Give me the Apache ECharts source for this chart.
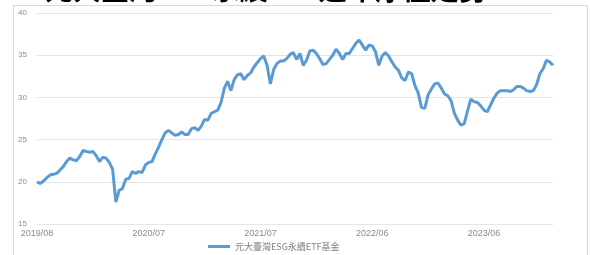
<!DOCTYPE html>
<html><head><meta charset="utf-8">
<script src="https://cdn.jsdelivr.net/npm/echarts@6/dist/echarts.min.js"></script>
<style>html,body{margin:0;padding:0;background:#fff}#c{width:590px;height:255px}</style>
</head><body><div id="c"></div>
<script>
const titleText = '元大臺灣ESG永續ETF近年淨值走勢';
const seriesName = '元大臺灣ESG永續ETF基金';
const tickLabels = ['2019/08', '2020/07', '2021/07', '2022/06', '2023/06'];
const labelStep = 34;
const yMin = 15, yMax = 40, yStep = 5;
const values = [
 20.0,19.8,20.1,20.5,20.8,20.9,21.0,21.4,21.8,22.4,
 22.8,22.6,22.5,23.0,23.7,23.6,23.5,23.6,23.1,22.4,
 22.9,22.8,22.3,21.5,17.6,19.0,19.2,20.3,20.4,21.2,
 21.0,21.2,21.1,22.0,22.3,22.4,23.3,24.1,25.0,25.8,
 26.1,25.8,25.5,25.6,25.9,25.6,25.6,26.3,26.4,26.1,
 26.6,27.4,27.3,28.1,28.3,28.5,29.4,31.1,31.9,30.8,
 32.1,32.7,32.8,32.1,32.6,32.9,33.6,34.1,34.6,34.9,
 33.8,31.6,33.3,34.0,34.3,34.3,34.6,35.1,35.3,34.5,
 35.2,33.8,34.4,35.5,35.6,35.2,34.6,33.9,34.0,34.5,
 35.0,35.7,35.2,34.5,35.2,35.2,35.8,36.4,36.8,36.2,
 35.6,36.2,36.1,35.4,33.8,34.9,35.3,34.9,34.2,33.6,
 33.2,32.3,32.0,33.0,32.8,31.4,30.5,28.8,28.7,30.3,
 31.0,31.6,31.7,31.1,30.4,30.2,29.6,28.1,27.3,26.7,
 26.9,28.4,29.8,29.5,29.4,29.0,28.5,28.3,29.1,29.9,
 30.5,30.8,30.8,30.8,30.7,30.9,31.3,31.3,31.1,30.8,
 30.7,30.8,31.5,32.8,33.4,34.4,34.2,33.8
];
const categories = values.map((_, i) => (i % labelStep === 0 && tickLabels[i / labelStep]) ? tickLabels[i / labelStep] : String(i));

const chart = echarts.init(document.getElementById('c'), null, {renderer: 'canvas'});
chart.setOption({
  animation: false,
  backgroundColor: '#fff',
  graphic: [
    {type: 'rect', shape: {x: 13.5, y: 5.5, width: 574, height: 260}, style: {fill: 'none', stroke: '#d9d9d9', lineWidth: 1}, z: -1},
    {type: 'text', x: 45, y: 3, style: {text: titleText, font: 'bold 28px "Noto Sans CJK TC"', fill: '#000', verticalAlign: 'bottom'}}
  ],
  legend: {
    left: 203, top: 237, icon: 'rect', itemWidth: 22, itemHeight: 3,
    textStyle: {fontSize: 9, color: '#7f7f7f', fontFamily: '"Noto Sans CJK TC", sans-serif'},
    data: [seriesName]
  },
  grid: {left: 37, right: 37, top: 13, bottom: 31, containLabel: false},
  xAxis: {
    type: 'category', data: categories, boundaryGap: false,
    axisLine: {show: false}, axisTick: {show: false},
    axisLabel: {interval: labelStep - 1, margin: 5, fontSize: 9, color: '#8c8c8c',
      formatter: v => tickLabels.includes(v) ? v : ''},
    splitLine: {show: false}
  },
  yAxis: {
    type: 'value', min: yMin, max: yMax, interval: yStep,
    axisLine: {show: false}, axisTick: {show: false},
    axisLabel: {fontSize: 8, color: '#8c8c8c', margin: 10},
    splitLine: {lineStyle: {color: '#e5e5e5', width: 1}}
  },
  series: [{
    name: seriesName, type: 'line', data: values, showSymbol: false,
    lineStyle: {color: '#5B9BD5', width: 3}, itemStyle: {color: '#5B9BD5'}
  }]
});
</script></body></html>
